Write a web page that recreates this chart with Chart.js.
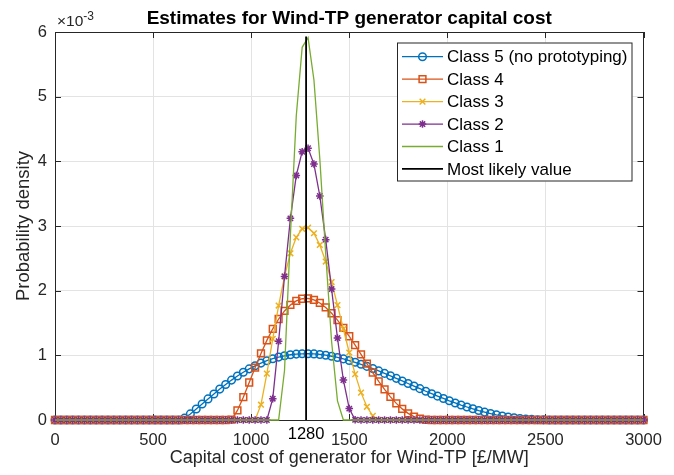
<!DOCTYPE html>
<html>
<head>
<meta charset="utf-8">
<script src="https://cdn.jsdelivr.net/npm/chart.js"></script>
<style>
  body { margin: 0; background: #fff; }
  #wrap { width: 674px; height: 475px; }
</style>
</head>
<body>
<div id="wrap"><canvas id="chart" width="674" height="475"></canvas></div>
<script>
// capital cost grid [£/MW]
const capitalCost = [
  0, 30, 60, 90, 120, 150, 180, 210, 240, 270,
  300, 330, 360, 390, 420, 450, 480, 510, 540, 570,
  600, 630, 660, 690, 720, 750, 780, 810, 840, 870,
  900, 930, 960, 990, 1020, 1050, 1080, 1110, 1140, 1170,
  1200, 1230, 1260, 1290, 1320, 1350, 1380, 1410, 1440, 1470,
  1500, 1530, 1560, 1590, 1620, 1650, 1680, 1710, 1740, 1770,
  1800, 1830, 1860, 1890, 1920, 1950, 1980, 2010, 2040, 2070,
  2100, 2130, 2160, 2190, 2220, 2250, 2280, 2310, 2340, 2370,
  2400, 2430, 2460, 2490, 2520, 2550, 2580, 2610, 2640, 2670,
  2700, 2730, 2760, 2790, 2820, 2850, 2880, 2910, 2940, 2970,
  3000
];

// probability density, x10^-3
const class5 = [
  0, 0, 0, 0, 0, 0, 0, 0, 0, 0,
  0, 0, 0, 0, 0, 0, 0, 0, 0, 0,
  0, 0, 0.029, 0.094, 0.169, 0.247, 0.326, 0.403, 0.478, 0.550,
  0.617, 0.680, 0.738, 0.791, 0.838, 0.880, 0.917, 0.948, 0.973, 0.993,
  1.009, 1.019, 1.024, 1.025, 1.022, 1.014, 1.002, 0.986, 0.967, 0.945,
  0.920, 0.892, 0.861, 0.829, 0.795, 0.759, 0.721, 0.683, 0.644, 0.604,
  0.564, 0.525, 0.485, 0.445, 0.407, 0.369, 0.333, 0.297, 0.264, 0.231,
  0.201, 0.173, 0.146, 0.122, 0.100, 0.080, 0.063, 0.047, 0.035, 0.024,
  0.015, 0.009, 0.005, 0.002, 0.0004, 0, 0, 0, 0, 0,
  0, 0, 0, 0, 0, 0, 0, 0, 0, 0,
  0
];
const class4 = [
  0, 0, 0, 0, 0, 0, 0, 0, 0, 0,
  0, 0, 0, 0, 0, 0, 0, 0, 0, 0,
  0, 0, 0, 0, 0, 0, 0, 0, 0, 0,
  0.006, 0.148, 0.353, 0.580, 0.809, 1.029, 1.231, 1.410, 1.562, 1.686,
  1.779, 1.842, 1.875, 1.880, 1.858, 1.810, 1.741, 1.651, 1.545, 1.425,
  1.295, 1.157, 1.015, 0.873, 0.733, 0.598, 0.473, 0.358, 0.257, 0.172,
  0.103, 0.053, 0.020, 0.004, 0, 0, 0, 0, 0, 0,
  0, 0, 0, 0, 0, 0, 0, 0, 0, 0,
  0, 0, 0, 0, 0, 0, 0, 0, 0, 0,
  0, 0, 0, 0, 0, 0, 0, 0, 0, 0,
  0
];
const class3 = [
  0, 0, 0, 0, 0, 0, 0, 0, 0, 0,
  0, 0, 0, 0, 0, 0, 0, 0, 0, 0,
  0, 0, 0, 0, 0, 0, 0, 0, 0, 0,
  0, 0, 0, 0, 0, 0.237, 0.717, 1.254, 1.770, 2.221,
  2.578, 2.824, 2.957, 2.975, 2.888, 2.707, 2.450, 2.133, 1.777, 1.407,
  1.044, 0.709, 0.423, 0.204, 0.064, 0.004, 0, 0, 0, 0,
  0, 0, 0, 0, 0, 0, 0, 0, 0, 0,
  0, 0, 0, 0, 0, 0, 0, 0, 0, 0,
  0, 0, 0, 0, 0, 0, 0, 0, 0, 0,
  0, 0, 0, 0, 0, 0, 0, 0, 0, 0,
  0
];
const class2 = [
  0, 0, 0, 0, 0, 0, 0, 0, 0, 0,
  0, 0, 0, 0, 0, 0, 0, 0, 0, 0,
  0, 0, 0, 0, 0, 0, 0, 0, 0, 0,
  0, 0, 0, 0, 0, 0, 0, 0.330, 1.218, 2.221,
  3.118, 3.782, 4.149, 4.202, 3.958, 3.464, 2.789, 2.025, 1.267, 0.619,
  0.176, 0.003, 0, 0, 0, 0, 0, 0, 0, 0,
  0, 0, 0, 0, 0, 0, 0, 0, 0, 0,
  0, 0, 0, 0, 0, 0, 0, 0, 0, 0,
  0, 0, 0, 0, 0, 0, 0, 0, 0, 0,
  0, 0, 0, 0, 0, 0, 0, 0, 0, 0,
  0
];
const class1 = [
  0, 0, 0, 0, 0, 0, 0, 0, 0, 0,
  0, 0, 0, 0, 0, 0, 0, 0, 0, 0,
  0, 0, 0, 0, 0, 0, 0, 0, 0, 0,
  0, 0, 0, 0, 0, 0, 0, 0, 0, 0.766,
  2.862, 4.704, 5.763, 5.914, 5.258, 4.035, 2.568, 1.214, 0.296, 0,
  0, 0, 0, 0, 0, 0, 0, 0, 0, 0,
  0, 0, 0, 0, 0, 0, 0, 0, 0, 0,
  0, 0, 0, 0, 0, 0, 0, 0, 0, 0,
  0, 0, 0, 0, 0, 0, 0, 0, 0, 0,
  0, 0, 0, 0, 0, 0, 0, 0, 0, 0,
  0
];

const mostLikely = 1280;
const mostLikelyRange = [0, 5.93];

const seriesNames = ["Class 5 (no prototyping)", "Class 4", "Class 3", "Class 2", "Class 1", "Most likely value"];
const xTicks = [0, 500, 1000, 1500, 2000, 2500, 3000];
const yTicks = [0, 1, 2, 3, 4, 5, 6];

const FONT = '"Liberation Sans", Arial, Helvetica, sans-serif';
const AXIS_COLOR = "#262626";
const GRID_COLOR = "#e3e3e3";

function points(ys) {
  return capitalCost.map((c, i) => ({ x: c, y: ys[i] }));
}

// MATLAB-like box, inward ticks, title, exponent, annotation and legend
const matlabAxes = {
  id: "matlabAxes",
  beforeDatasetsDraw(chart) {
    const { ctx, chartArea: a, scales: { x, y } } = chart;
    ctx.save();
    ctx.strokeStyle = AXIS_COLOR;
    ctx.lineWidth = 1;
    ctx.strokeRect(Math.round(a.left) + 0.5, Math.round(a.top) + 0.5,
      Math.round(a.right - a.left) - 1, Math.round(a.bottom - a.top));
    ctx.beginPath();
    xTicks.forEach(v => {
      const px = Math.round(x.getPixelForValue(v)) + 0.5;
      ctx.moveTo(px, a.bottom); ctx.lineTo(px, a.bottom - 6);
      ctx.moveTo(px, a.top); ctx.lineTo(px, a.top + 6);
    });
    yTicks.forEach(v => {
      const py = Math.round(y.getPixelForValue(v)) + 0.5;
      ctx.moveTo(a.left, py); ctx.lineTo(a.left + 6, py);
      ctx.moveTo(a.right, py); ctx.lineTo(a.right - 6, py);
    });
    ctx.stroke();

    // title
    ctx.fillStyle = "#000";
    ctx.font = "bold 19px " + FONT;
    ctx.textAlign = "center";
    ctx.textBaseline = "alphabetic";
    ctx.fillText("Estimates for Wind-TP generator capital cost", (a.left + a.right) / 2, 24);

    // exponent
    ctx.fillStyle = AXIS_COLOR;
    ctx.textAlign = "left";
    ctx.font = "15.5px " + FONT;
    ctx.fillText("\u00d710", a.left + 2, 26);
    const w = ctx.measureText("\u00d710").width;
    ctx.font = "12px " + FONT;
    ctx.fillText("-3", a.left + 2 + w, 20);

    // most likely value label
    ctx.fillStyle = "#000";
    ctx.textAlign = "center";
    ctx.font = "16.5px " + FONT;
    ctx.fillText(String(mostLikely), x.getPixelForValue(mostLikely), 439);
    ctx.restore();
  },
  afterDatasetsDraw(chart) {
    const { ctx } = chart;
    const box = { left: 397, top: 42.5, right: 632.5, bottom: 181.5 };
    ctx.save();
    ctx.fillStyle = "#fff";
    ctx.fillRect(box.left, box.top, box.right - box.left, box.bottom - box.top);
    ctx.strokeStyle = AXIS_COLOR;
    ctx.lineWidth = 1;
    ctx.strokeRect(box.left + 0.5, box.top + 0.5, box.right - box.left - 1, box.bottom - box.top - 1);
    ctx.font = "17px " + FONT;
    ctx.textAlign = "left";
    ctx.textBaseline = "middle";
    chart.data.datasets.forEach((ds, i) => {
      const yy = 56.7 + i * 22.45;
      ctx.strokeStyle = ds.borderColor;
      ctx.lineWidth = ds.borderWidth;
      ctx.beginPath();
      ctx.moveTo(402, yy); ctx.lineTo(443, yy);
      ctx.stroke();
      if (ds.pointRadius > 0) {
        ctx.fillStyle = "rgba(0,0,0,0)";
        ctx.lineWidth = ds.pointBorderWidth;
        Chart.helpers.drawPoint(ctx, {
          pointStyle: ds.pointStyle, radius: ds.pointRadius, rotation: 0,
          borderWidth: ds.pointBorderWidth
        }, 422.5, yy);
      }
      ctx.fillStyle = "#000";
      ctx.fillText(ds.label, 447, yy + 1);
    });
    ctx.restore();
  }
};

function series(label, ys, color, style, radius, order) {
  return {
    label: label,
    data: points(ys),
    borderColor: color,
    borderWidth: 1.3,
    pointStyle: style,
    pointRadius: radius,
    pointBorderWidth: 1.5,
    pointBorderColor: color,
    pointBackgroundColor: "rgba(0,0,0,0)",
    tension: 0,
    fill: false,
    clip: false,
    order: order
  };
}

const datasets = [
  series(seriesNames[0], class5, "#0072BD", "circle", 3.8, 5),
  series(seriesNames[1], class4, "#D95319", "rect", 4.8, 4),
  series(seriesNames[2], class3, "#EDB120", "crossRot", 4, 3),
  series(seriesNames[3], class2, "#7E2F8E", "star", 3.8, 2),
  series(seriesNames[4], class1, "#77AC30", "circle", 0, 1),
  {
    label: seriesNames[5],
    data: mostLikelyRange.map(v => ({ x: mostLikely, y: v })),
    borderColor: "#000000",
    borderWidth: 1.8,
    pointRadius: 0,
    fill: false,
    clip: false,
    order: 0
  }
];

new Chart(document.getElementById("chart"), {
  type: "line",
  data: { datasets: datasets },
  options: {
    responsive: false,
    animation: false,
    events: [],
    layout: { padding: { left: 0, right: 30.5, top: 32, bottom: 0 } },
    plugins: {
      legend: { display: false },
      tooltip: { enabled: false },
      title: { display: false }
    },
    scales: {
      x: {
        type: "linear",
        min: 0,
        max: 3000,
        afterBuildTicks: s => { s.ticks = xTicks.map(v => ({ value: v })); },
        afterFit: s => { s.height = 55; },
        grid: { color: GRID_COLOR, drawTicks: false },
        border: { display: false },
        ticks: {
          color: AXIS_COLOR,
          font: { family: FONT, size: 16.5 },
          padding: 11,
          maxRotation: 0,
          callback: v => String(v)
        },
        title: {
          display: true,
          text: "Capital cost of generator for Wind-TP [£/MW]",
          color: AXIS_COLOR,
          font: { family: FONT, size: 18 },
          padding: { top: 0, bottom: 6 }
        }
      },
      y: {
        min: 0,
        max: 6,
        afterBuildTicks: s => { s.ticks = yTicks.map(v => ({ value: v })); },
        afterFit: s => { s.width = 55; },
        grid: { color: GRID_COLOR, drawTicks: false },
        border: { display: false },
        ticks: { color: AXIS_COLOR, font: { family: FONT, size: 16.5 }, padding: 8 },
        title: {
          display: true,
          text: "Probability density",
          color: AXIS_COLOR,
          font: { family: FONT, size: 18.5 },
          padding: { top: 13, bottom: 0 }
        }
      }
    }
  },
  plugins: [matlabAxes]
});
</script>
</body>
</html>
